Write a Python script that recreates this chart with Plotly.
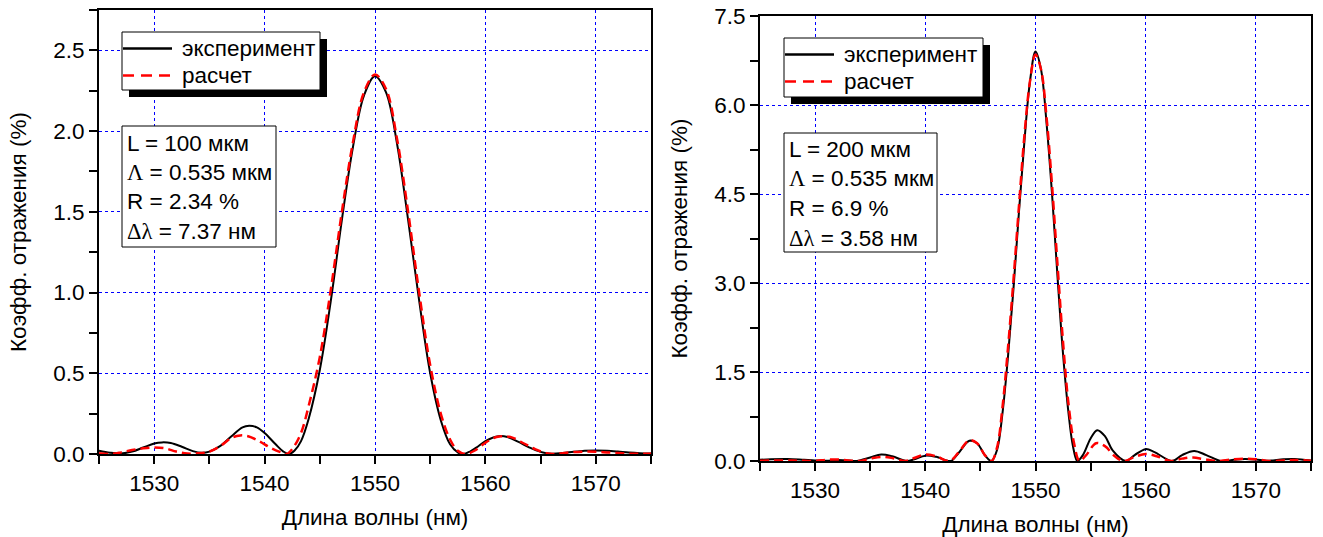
import plotly.graph_objects as go

# ---------------- data ----------------
# Left panel: L = 100 um
lam_L_exp = [1525, 1526, 1527, 1528, 1529, 1530, 1530.7, 1531.5, 1532.5, 1533.5, 1534.3, 1535, 1536, 1537, 1538, 1538.6,
             1539.3, 1540, 1541, 1541.7, 1542.2, 1542.7, 1543.3, 1544, 1545, 1546, 1547, 1548, 1549, 1550, 1551, 1552,
             1553, 1554, 1555, 1556, 1556.8, 1557.5, 1558, 1558.6, 1559.3, 1560, 1561.2, 1562, 1563, 1564, 1565, 1566,
             1567, 1568, 1569, 1570, 1571, 1572, 1573, 1574, 1575]
R_L_exp = [0.02, 0.008, 0.003, 0.015, 0.04, 0.065, 0.072, 0.068, 0.045, 0.018, 0.008, 0.015, 0.05, 0.11, 0.165, 0.175,
           0.165, 0.13, 0.06, 0.015, 0.0, 0.02, 0.08, 0.22, 0.52, 0.95, 1.45, 1.9, 2.22, 2.34, 2.24, 1.92,
           1.45, 0.95, 0.5, 0.2, 0.06, 0.01, 0.0, 0.015, 0.045, 0.08, 0.11, 0.105, 0.075, 0.04, 0.013, 0.002,
           0.006, 0.014, 0.02, 0.022, 0.02, 0.015, 0.009, 0.005, 0.003]

lam_L_calc = [1525, 1526, 1527, 1528, 1529, 1530, 1531, 1532, 1533, 1534, 1535, 1536, 1537, 1537.8, 1538.5, 1539.5,
              1540.5, 1541.5, 1542, 1542.6, 1543.3, 1544, 1545, 1546, 1547, 1548, 1549, 1550, 1551, 1552, 1553,
              1554, 1555, 1556, 1556.8, 1557.5, 1558.2, 1559, 1560, 1561, 1561.8, 1562.5, 1563.5, 1564.5, 1565.5,
              1566.2, 1567, 1568, 1569, 1570, 1571, 1572, 1573, 1574, 1575]
R_L_calc = [0.005, 0.0, 0.01, 0.025, 0.035, 0.04, 0.035, 0.015, 0.003, 0.004, 0.015, 0.05, 0.1, 0.115, 0.11, 0.08,
            0.04, 0.01, 0.0, 0.04, 0.13, 0.3, 0.6, 1.02, 1.5, 1.93, 2.24, 2.35, 2.26, 1.95, 1.5,
            1.0, 0.55, 0.24, 0.09, 0.02, 0.0, 0.02, 0.07, 0.105, 0.11, 0.1, 0.065, 0.03, 0.005,
            0.0, 0.005, 0.012, 0.015, 0.014, 0.01, 0.006, 0.002, 0.001, 0.002]

# Right panel: L = 200 um
lam_R_exp = [1525, 1526, 1527.5, 1529, 1530, 1531, 1532, 1533, 1533.8, 1535, 1536, 1537, 1538.3, 1539, 1540, 1541,
             1542.3, 1543, 1544, 1544.7, 1545.4, 1546, 1546.5, 1547, 1547.5, 1548, 1548.5, 1549, 1549.5, 1550,
             1550.5, 1551, 1551.5, 1552, 1552.5, 1553, 1553.4, 1553.8, 1554.3, 1555, 1555.6, 1556.3, 1557, 1558.2,
             1559, 1560, 1560.8, 1562.4, 1563.3, 1564.4, 1565.5, 1566.8, 1568, 1569, 1570, 1571, 1572.5, 1573.5, 1575]
R_R_exp = [0.02, 0.03, 0.035, 0.02, 0.01, 0.005, 0.015, 0.01, 0.0, 0.06, 0.11, 0.08, 0.0, 0.03, 0.09, 0.07,
           0.0, 0.13, 0.34, 0.3, 0.1, 0.0, 0.18, 0.8, 1.75, 2.9, 4.2, 5.4, 6.4, 6.9,
           6.6, 5.7, 4.5, 3.1, 1.8, 0.8, 0.25, 0.0, 0.1, 0.38, 0.52, 0.42, 0.18, 0.0,
           0.1, 0.2, 0.15, 0.0, 0.1, 0.17, 0.1, 0.0, 0.02, 0.035, 0.025, 0.005, 0.03, 0.035, 0.01]

lam_R_calc = [1525, 1527, 1528.5, 1530, 1531, 1532, 1533, 1534, 1535, 1536, 1537, 1538.2, 1539, 1540, 1541, 1542.2,
              1543, 1544, 1544.7, 1545.4, 1546, 1546.5, 1547, 1547.5, 1548, 1548.5, 1549, 1549.5, 1550, 1550.5,
              1551, 1551.5, 1552, 1552.5, 1553, 1553.5, 1554, 1554.6, 1555.5, 1556.3, 1557.2, 1558, 1559, 1560,
              1561, 1562.3, 1563.3, 1564.3, 1565.3, 1566.5, 1568, 1569, 1570, 1571.2, 1572.5, 1573.5, 1575]
R_R_calc = [0.005, 0.01, 0.005, 0.0, 0.02, 0.025, 0.01, 0.0, 0.04, 0.07, 0.05, 0.0, 0.05, 0.11, 0.08, 0.0,
            0.14, 0.35, 0.3, 0.1, 0.0, 0.22, 0.9, 1.9, 3.05, 4.3, 5.5, 6.4, 6.85, 6.6,
            5.8, 4.65, 3.3, 2.0, 0.95, 0.3, 0.0, 0.1, 0.3, 0.25, 0.08, 0.0, 0.07, 0.12,
            0.08, 0.0, 0.04, 0.06, 0.03, 0.0, 0.03, 0.04, 0.03, 0.0, 0.01, 0.015, 0.005]

series_names = ["эксперимент", "расчет"]
x_range = [1525, 1575]
x_ticks = [1530, 1540, 1550, 1560, 1570]
y_range_L = [0, 2.75]
y_range_R = [0, 7.5]
SERIF = "<span style=\"font-family:'Liberation Serif'\">%s</span>"
info_L = ["L = 100 мкм", SERIF % "Λ" + " = 0.535 мкм", "R = 2.34 %", SERIF % "Δλ" + " = 7.37 нм"]
info_R = ["L = 200 мкм", SERIF % "Λ" + " = 0.535 мкм", "R = 6.9 %", SERIF % "Δλ" + " = 3.58 нм"]
x_title = "Длина волны (нм)"
y_title = "Коэфф. отражения (%)"

# ---------------- figure ----------------
W, H = 1323, 537
FONT = "Liberation Sans, Arial, sans-serif"
FS = 22.5

def px(x):
    return x / W

def py(y):
    return 1 - y / H

fig = go.Figure()
exp_line = dict(color="black", width=2)
calc_line = dict(color="#ff0000", width=2.5, dash="9px,5px")

fig.add_trace(go.Scatter(x=lam_L_exp, y=R_L_exp, mode="lines", name=series_names[0], line=exp_line,
                         line_shape="spline", xaxis="x", yaxis="y"))
fig.add_trace(go.Scatter(x=lam_L_calc, y=R_L_calc, mode="lines", name=series_names[1], line=calc_line,
                         line_shape="spline", xaxis="x", yaxis="y"))
fig.add_trace(go.Scatter(x=lam_R_exp, y=R_R_exp, mode="lines", name=series_names[0], line=exp_line,
                         line_shape="spline", xaxis="x2", yaxis="y2"))
fig.add_trace(go.Scatter(x=lam_R_calc, y=R_R_calc, mode="lines", name=series_names[1], line=calc_line,
                         line_shape="spline", xaxis="x2", yaxis="y2"))

dom_xL = [px(99), px(651)]
dom_xR = [px(760), px(1311)]
dom_yL = [py(454), py(10)]
dom_yR = [py(461), py(16)]

tickfont = dict(family=FONT, size=FS, color="black")
titlefont = dict(family=FONT, size=FS, color="black")

def xax(domain, anchor):
    return dict(domain=domain, anchor=anchor, range=x_range, tickvals=x_ticks, ticks="outside", ticklen=8,
                tickwidth=1.5, tickcolor="black", tickfont=tickfont, automargin=False,
                minor=dict(dtick=5, tick0=1525, ticks="outside", ticklen=8, tickwidth=1.5, tickcolor="black",
                           showgrid=False),
                showgrid=True, gridcolor="#0000ff", griddash="3px,3px", gridwidth=1,
                showline=True, linecolor="black", linewidth=2, mirror=True, zeroline=False,
                title=dict(text=x_title, font=titlefont, standoff=14))

def yax(domain, anchor, rng, dtick, title_standoff):
    return dict(domain=domain, anchor=anchor, range=rng, dtick=dtick, tick0=0, tickformat=".1f",
                ticks="outside", ticklen=8, tickwidth=1.5, tickcolor="black", tickfont=tickfont, automargin=False,
                minor=dict(dtick=dtick / 2, ticks="outside", ticklen=8, tickwidth=1.5, tickcolor="black",
                           showgrid=False),
                showgrid=True, gridcolor="#0000ff", griddash="3px,3px", gridwidth=1,
                showline=True, linecolor="black", linewidth=2, mirror=True, zeroline=False,
                title=dict(text=y_title, font=titlefont, standoff=title_standoff))

def top_ax(overlay, anchor):
    return dict(overlaying=overlay, anchor=anchor, side="top", range=x_range, tickvals=x_ticks,
                ticks="inside", ticklen=8, tickwidth=1.5, tickcolor="black", showticklabels=False,
                showgrid=False, showline=False, zeroline=False, automargin=False)

def right_ax(overlay, anchor, rng, dtick):
    return dict(overlaying=overlay, anchor=anchor, side="right", range=rng, dtick=dtick, tick0=0,
                ticks="inside", ticklen=8, tickwidth=1.5, tickcolor="black", showticklabels=False,
                showgrid=False, showline=False, zeroline=False, automargin=False)

shapes = []
annotations = []

def text_ann(t, x, y):
    return dict(text=t, xref="paper", yref="paper", x=px(x), y=py(y), xanchor="left", yanchor="middle",
                showarrow=False, font=dict(family=FONT, size=FS, color="black"))

# legend boxes with shadow (drawn by hand, one per panel)
for (x0, y0, x1, y1) in [(122, 32, 320, 90), (784, 38, 983, 97)]:
    shapes.append(dict(type="rect", xref="paper", yref="paper", x0=px(x0 + 7), x1=px(x1 + 7),
                       y0=py(y1 + 7), y1=py(y0 + 7), fillcolor="black", line=dict(width=0), layer="above"))
    shapes.append(dict(type="rect", xref="paper", yref="paper", x0=px(x0), x1=px(x1), y0=py(y1), y1=py(y0),
                       fillcolor="white", line=dict(color="black", width=1), layer="above"))
    row1, row2 = y0 + 16.5, y0 + 43.5
    shapes.append(dict(type="line", xref="paper", yref="paper", x0=px(x0 + 1), x1=px(x0 + 50),
                       y0=py(row1), y1=py(row1), line=dict(color="black", width=2.5), layer="above"))
    shapes.append(dict(type="line", xref="paper", yref="paper", x0=px(x0 + 1), x1=px(x0 + 50),
                       y0=py(row2), y1=py(row2), line=dict(color="#ff0000", width=2.5, dash="11px,7px"),
                       layer="above"))
    annotations.append(text_ann(series_names[0], x0 + 58, row1))
    annotations.append(text_ann(series_names[1], x0 + 58, row2))

# info boxes
for (x0, y0, x1, y1), lines, ys in [((122, 126, 276, 247), info_L, [143, 172, 201, 231]),
                                     ((784, 133, 937, 252), info_R, [149, 179, 208, 238])]:
    shapes.append(dict(type="rect", xref="paper", yref="paper", x0=px(x0), x1=px(x1), y0=py(y1), y1=py(y0),
                       fillcolor="white", line=dict(color="black", width=1), layer="above"))
    for t, yy in zip(lines, ys):
        annotations.append(text_ann(t, x0 + 3, yy))

fig.update_layout(
    width=W, height=H, margin=dict(l=0, r=0, t=0, b=0, autoexpand=False),
    paper_bgcolor="white", plot_bgcolor="white",
    font=dict(family=FONT, size=FS, color="black"),
    xaxis=xax(dom_xL, "y"),
    yaxis=yax(dom_yL, "x", y_range_L, 0.5, 20),
    xaxis2=xax(dom_xR, "y2"),
    yaxis2=yax(dom_yR, "x2", y_range_R, 1.5, 20),
    xaxis3=top_ax("x", "y"),
    yaxis3=right_ax("y", "x", y_range_L, 0.5),
    xaxis4=top_ax("x2", "y2"),
    yaxis4=right_ax("y2", "x2", y_range_R, 1.5),
    shapes=shapes,
    annotations=annotations,
    showlegend=False,
)

fig.write_html("out.html")
